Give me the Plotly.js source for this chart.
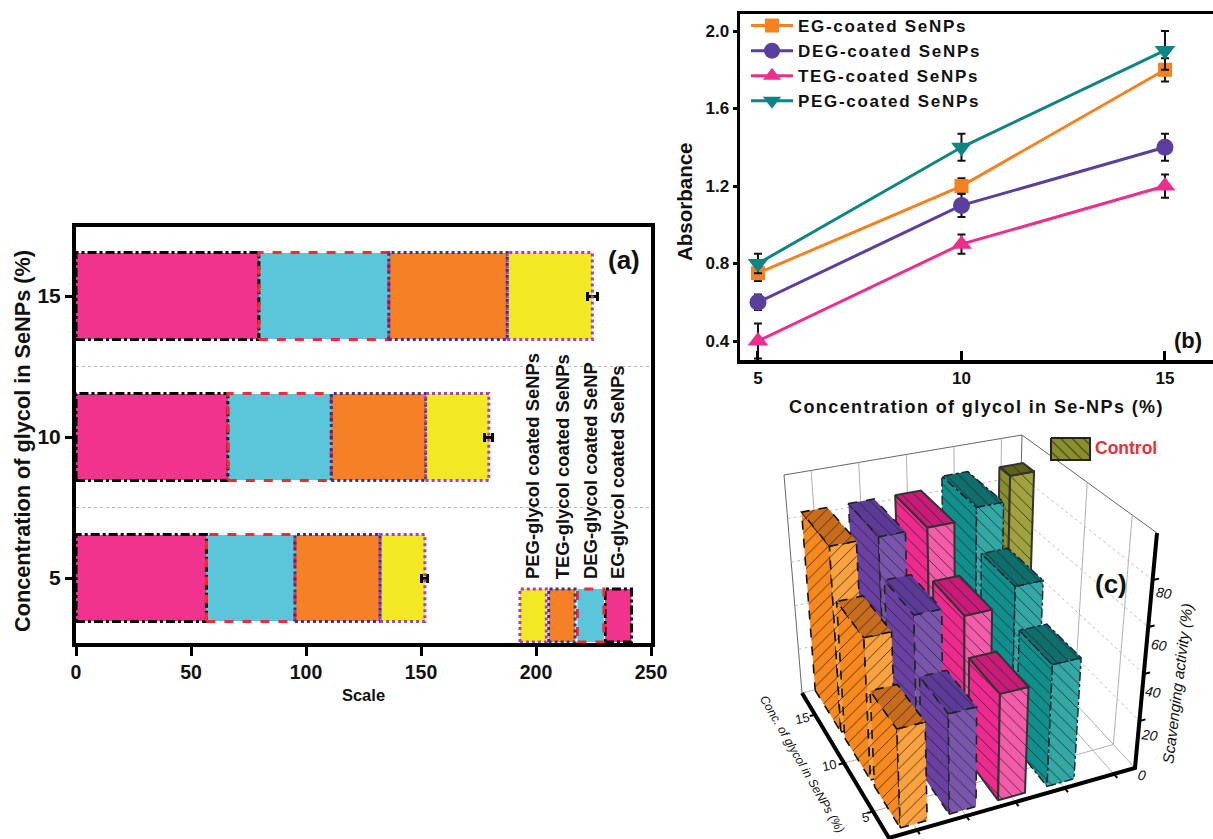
<!DOCTYPE html>
<html><head><meta charset="utf-8">
<script src="https://cdn.plot.ly/plotly-3.0.1.min.js"></script>
<style>
html,body{margin:0;padding:0;background:#fff;overflow:hidden}
.legendtext{letter-spacing:1.7px}
.x2title{letter-spacing:1.4px}
</style></head><body><div id="chart" style="width:1213px;height:839px"></div>
<script>
// ---------- Panel (a) ----------
const concA=[5,10,15];
const barNames=['EG-glycol coated SeNPs','DEG-glycol coated SeNP','TEG-glycol coated SeNPs','PEG-glycol coated SeNPs'];
const egA=[56.7,66,79.5];
const degA=[38.5,45,56.5];
const tegA=[37,41,51.5];
const pegA=[19.5,27.5,37];
const errA=[1.3,1.8,2.2];
const gridRows=[7.5,12.5];
const colorsA=['#F0338C','#5BC5DA','#F58025','#F2E824'];
const edgeA=['#000000','#EE2B37','#35339B','#A63FC4'];
const dashA=['dashdot','dash','dot','dot'];
// ---------- Panel (b) ----------
const concB=[5,10,15];
const namesB=['EG-coated SeNPs','DEG-coated SeNPs','TEG-coated SeNPs','PEG-coated SeNPs'];
const egB=[0.75,1.2,1.8];
const degB=[0.6,1.1,1.4];
const tegB=[0.4,0.9,1.2];
const pegB=[0.8,1.4,1.9];
const egBerr=[0.04,0.04,0.06];
const degBerr=[0.04,0.06,0.07];
const tegBerr=[0.09,0.05,0.06];
const pegBerr=[0.05,0.07,0.1];
const colorsB=['#F58220','#5B3F9E','#EC2F8C','#0E8583'];
const symbolsB=['square','circle','triangle-up','triangle-down'];
// ---------- Panel (c) : rows 5,10,15 ----------
const eg3D=[40,60,82];
const deg3D=[41,65,82];
const teg3D=[44,60,82];
const peg3D=[51,68,87];
const control3D=[88];

const F='"Liberation Sans",Arial,sans-serif';
const traces=[],shapes=[],annotations=[];

// ---- panel a bars
const seriesA=[egA,degA,tegA,pegA];
seriesA.forEach((vals,i)=>{
  traces.push({type:'bar',orientation:'h',y:concA,x:vals,width:3.08,name:barNames[i],showlegend:false,
    marker:{color:colorsA[i],line:{width:0}},hoverinfo:'x+y',
    error_x:i===3?{type:'data',array:errA,visible:true,color:'#000',thickness:3,width:4.5}:{visible:false},
    xaxis:'x',yaxis:'y'});
});
const halfBar=1.54;
function outline(x0,x1,yc,h,color,dash){
  traces.push({type:'scatter',mode:'lines',x:[x0,x1,x1,x0,x0],y:[yc-h,yc-h,yc+h,yc+h,yc-h],showlegend:false,hoverinfo:'skip',
    line:{color:color,width:3,dash:dash},xaxis:'x',yaxis:'y'});
}
concA.forEach((c,r)=>{
  let s=0;
  seriesA.forEach((vals,i)=>{ outline(s,s+vals[r],c,halfBar,edgeA[i],dashA[i]); s+=vals[r]; });
});
gridRows.forEach(g=>shapes.push({type:'line',xref:'x',yref:'y',x0:0,x1:250,y0:g,y1:g,layer:'below',line:{color:'#b5b5b5',width:1,dash:'dot'}}));
// panel a key
const keyStarts=[230,218,205.5,193];
const keyWidth=11.5, keyY=3.67, keyH=0.94;
keyStarts.forEach((k,i)=>{
  traces.push({type:'scatter',mode:'lines',x:[k,k+keyWidth,k+keyWidth,k,k],y:[keyY-keyH,keyY-keyH,keyY+keyH,keyY+keyH,keyY-keyH],
    fill:'toself',fillcolor:colorsA[i],showlegend:false,hoverinfo:'skip',line:{color:edgeA[i],width:3,dash:dashA[i]},xaxis:'x',yaxis:'y'});
  annotations.push({xref:'x',yref:'y',x:k+keyWidth/2,y:4.9,text:barNames[i],
    textangle:-90,showarrow:false,xanchor:'center',yanchor:'bottom',font:{family:F,size:18.4,color:'#111',weight:700}});
});

// ---- panel b
[[egB,egBerr],[degB,degBerr],[tegB,tegBerr],[pegB,pegBerr]].forEach(([v,e],i)=>{
  traces.push({type:'scatter',mode:'lines+markers',x:concB,y:v,name:namesB[i],xaxis:'x2',yaxis:'y2',
    line:{color:colorsB[i],width:3},marker:{color:colorsB[i],symbol:symbolsB[i],size:i===1?17:(i===0?14:18),line:{width:0}},
    error_y:{type:'data',array:e,visible:true,color:'#111',thickness:2,width:4}});
});

// ---- panel c: projection of (u,v,z) into the page through named corner anchors
const cam={F:[889,838],R:[1135,768],L:[802,693],B:[1017,640],TF:[879,588],TR:[1157,533],TL:[784,475],TB:[1022,435]};
const lerp=(a,b,t)=>[a[0]+(b[0]-a[0])*t,a[1]+(b[1]-a[1])*t];
function P(u,v,z){
  const uu=u/5,vv=v/3,zz=z/100;
  const bot=lerp(lerp(cam.F,cam.R,uu),lerp(cam.L,cam.B,uu),vv);
  const top=lerp(lerp(cam.TF,cam.TR,uu),lerp(cam.TL,cam.TB,uu),vv);
  return lerp(bot,top,zz);
}
function path(pts,line,fill){
  const t={type:'scatter',mode:'lines',x:pts.map(p=>p[0]),y:pts.map(p=>p[1]),xaxis:'x3',yaxis:'y3',showlegend:false,hoverinfo:'skip',line:line};
  if(fill){Object.assign(t,fill);}
  traces.push(t);
}
const wall={color:'#666',width:1}, grid={color:'#bdbdbd',width:1,dash:'dot'}, gridS={color:'#b0b0b0',width:1};
const colTicks=[0.57,1.57,2.57,3.57,4.57], rowTicks=[0.55,1.55,2.55], zTicks=[20,40,60,80];
// walls
path([P(0,3,0),P(0,3,100),P(5,3,100),P(5,0,100)],wall);
path([P(5,3,100),P(5,3,0)],wall);
path([P(5,3,0),P(0,3,0)],gridS); path([P(5,3,0),P(5,0,0)],gridS);
colTicks.forEach(u=>{path([P(u,3,100),P(u,3,0),P(u,0,0)],gridS);});
rowTicks.slice(0,2).forEach(v=>{path([P(5,v,100),P(5,v,0),P(0,v,0)],gridS);});
zTicks.forEach(z=>{path([P(0,3,z),P(5,3,z),P(5,0,z)],grid);});

function bar(u0,w,v0,d,z,col,hatch,line){
  const u1=u0+w,v1=v0+d;
  const mk=(c)=>({fill:'toself',fillcolor:c,fillpattern:{shape:hatch,size:9,solidity:0.1,bgcolor:c,fgcolor:'#222',fgopacity:0.85}});
  path([P(u0,v1,0),P(u0,v0,0),P(u0,v0,z),P(u0,v1,z),P(u0,v1,0)],line,mk(col[0]));
  path([P(u0,v0,0),P(u1,v0,0),P(u1,v0,z),P(u0,v0,z),P(u0,v0,0)],line,mk(col[1]));
  path([P(u0,v0,z),P(u1,v0,z),P(u1,v1,z),P(u0,v1,z),P(u0,v0,z)],line,mk(col[2]));
}
const set3D=[
 {vals:eg3D,col:['#F7881E','#F9A23F','#C76C1C'],h:'/',line:{color:'#111',width:1.6,dash:'dash'}},
 {vals:deg3D,col:['#6A40A3','#7A55AC','#5C3A98'],h:'\\',line:{color:'#222',width:1.6,dash:'dash'}},
 {vals:teg3D,col:['#EE2A8F','#F45BA9','#C81C78'],h:'\\',line:{color:'#333',width:2}},
 {vals:peg3D,col:['#118F8C','#33A8A5','#106E6C'],h:'\\',line:{color:'#123',width:1.4,dash:'dashdot'}}
];
const colStart=0.3,colW=0.55,rowStart=0.12,rowD=0.87;
// painter order: far rows first, far columns first
for(let r=2;r>=0;r--){
  if(r===2) bar(4.45,0.5,2.66,0.25,control3D[0],['#8B8F2B','#A0A23F','#5F6218'],'\\',{color:'#333',width:2});
  for(let c=3;c>=0;c--){
    const s=set3D[c];
    bar(colStart+c,colW,rowStart+r,rowD,s.vals[r],s.col,s.h,s.line);
  }
}
// bold axes
const axisLine={color:'#000',width:4};
path([P(0,3,0),P(0,0,0),P(5,0,0),P(5,0,100)],axisLine);
colTicks.forEach(u=>path([P(u,0,0),P(u,-0.09,0)],{color:'#000',width:2}));
rowTicks.forEach(v=>path([P(0,v,0),P(-0.12,v,0)],{color:'#000',width:2}));
zTicks.forEach(z=>path([P(5,0,z),P(5.12,0,z)],{color:'#000',width:2}));
// control swatch
path([[1051,438],[1090,438],[1090,460],[1051,460],[1051,438]],{color:'#222',width:2},
  {fill:'toself',fillcolor:'#8B8F2B',fillpattern:{shape:'\\',size:8,solidity:0.12,bgcolor:'#8B8F2B',fgcolor:'#222',fgopacity:0.85}});

// page text placed through the overlay axes
function note(x,y,text,size,opt={}){
  annotations.push(Object.assign({xref:'x3',yref:'y3',x,y,text,showarrow:false,
    font:{family:F,size,color:opt.color||'#111',weight:opt.weight===undefined?700:opt.weight,style:opt.style||'normal'}},opt.extra||{}));
}
note(624,260,'(a)',26);
note(1188,340,'(b)',22);
note(1111,584,'(c)',26);
note(1126,448,'Control',17.5,{color:'#E8303A'});
note(22,441,'Concentration of glycol in SeNPs (%)',21.7,{extra:{textangle:-90}});
note(684,202,'Absorbance',20.5,{extra:{textangle:-90}});
note(802,764,'Conc. of glycol in SeNPs (%)',12.2,{style:'italic',weight:400,extra:{textangle:60}});
note(1177,684,'Scavenging activity (%)',15.5,{style:'italic',weight:400,extra:{textangle:-83}});
[['15',802,718],['10',829,765],['5',865,817]].forEach(a=>note(a[1],a[2],a[0],13,{weight:400,extra:{textangle:-12}}));
[['80',1164,593],['60',1159,645],['40',1153,692],['20',1149,735],['0',1142,775]].forEach(a=>note(a[1],a[2],a[0],14,{weight:400,style:'italic',extra:{textangle:8}}));

const W=1213,H=839;
const layout={
  width:W,height:H,margin:{l:0,r:0,t:0,b:0},paper_bgcolor:'#fff',plot_bgcolor:'rgba(0,0,0,0)',barmode:'stack',
  showlegend:true,
  legend:{x:746/W,y:1-8/H,xanchor:'left',yanchor:'top',bgcolor:'rgba(0,0,0,0)',borderwidth:0,itemwidth:42,tracegroupgap:0,traceorder:'normal',
    font:{family:F,size:17,color:'#111',weight:700}},
  xaxis:{domain:[76/W,651/W],range:[0,250],anchor:'y',tickvals:[0,50,100,150,200,250],ticks:'outside',ticklen:9,tickwidth:3,tickcolor:'#000',
    showgrid:false,zeroline:false,showline:true,linecolor:'#000',linewidth:4,mirror:true,tickfont:{family:F,size:19.5,color:'#111',weight:700},
    title:{text:'Scale',font:{family:F,size:16.5,color:'#111',weight:700},standoff:8}},
  yaxis:{domain:[(H-643)/H,(H-227)/H],range:[2.695,17.447],anchor:'x',tickvals:concA,ticks:'outside',ticklen:7,tickwidth:3,tickcolor:'#000',
    showgrid:false,zeroline:false,showline:true,linecolor:'#000',linewidth:4,mirror:true,tickfont:{family:F,size:21,color:'#111',weight:700}},
  xaxis2:{domain:[740/W,1],range:[4.558,16.18],anchor:'y2',tickvals:concB,ticks:'inside',ticklen:9,tickwidth:3,tickcolor:'#000',
    showgrid:false,zeroline:false,showline:true,linecolor:'#000',linewidth:3.5,mirror:true,tickfont:{family:F,size:17,color:'#111',weight:700},
    title:{text:'Concentration of glycol in Se-NPs (%)',font:{family:F,size:18,color:'#111',weight:700},standoff:14}},
  yaxis2:{domain:[(H-360)/H,(H-14)/H],range:[0.302,2.088],anchor:'x2',tickvals:[0.4,0.8,1.2,1.6,2.0],tickformat:'.1f',ticks:'outside',ticklen:4,tickwidth:3,tickcolor:'#000',
    showgrid:false,zeroline:false,showline:true,linecolor:'#000',linewidth:3.5,tickfont:{family:F,size:17,color:'#111',weight:700}},
  xaxis3:{domain:[0,1],range:[0,W],visible:false,fixedrange:true,anchor:'y3'},
  yaxis3:{domain:[0,1],range:[H,0],visible:false,fixedrange:true,anchor:'x3'},
  shapes,annotations
};
Plotly.newPlot('chart',traces,layout,{displayModeBar:false,staticPlot:true});
</script></body></html>
